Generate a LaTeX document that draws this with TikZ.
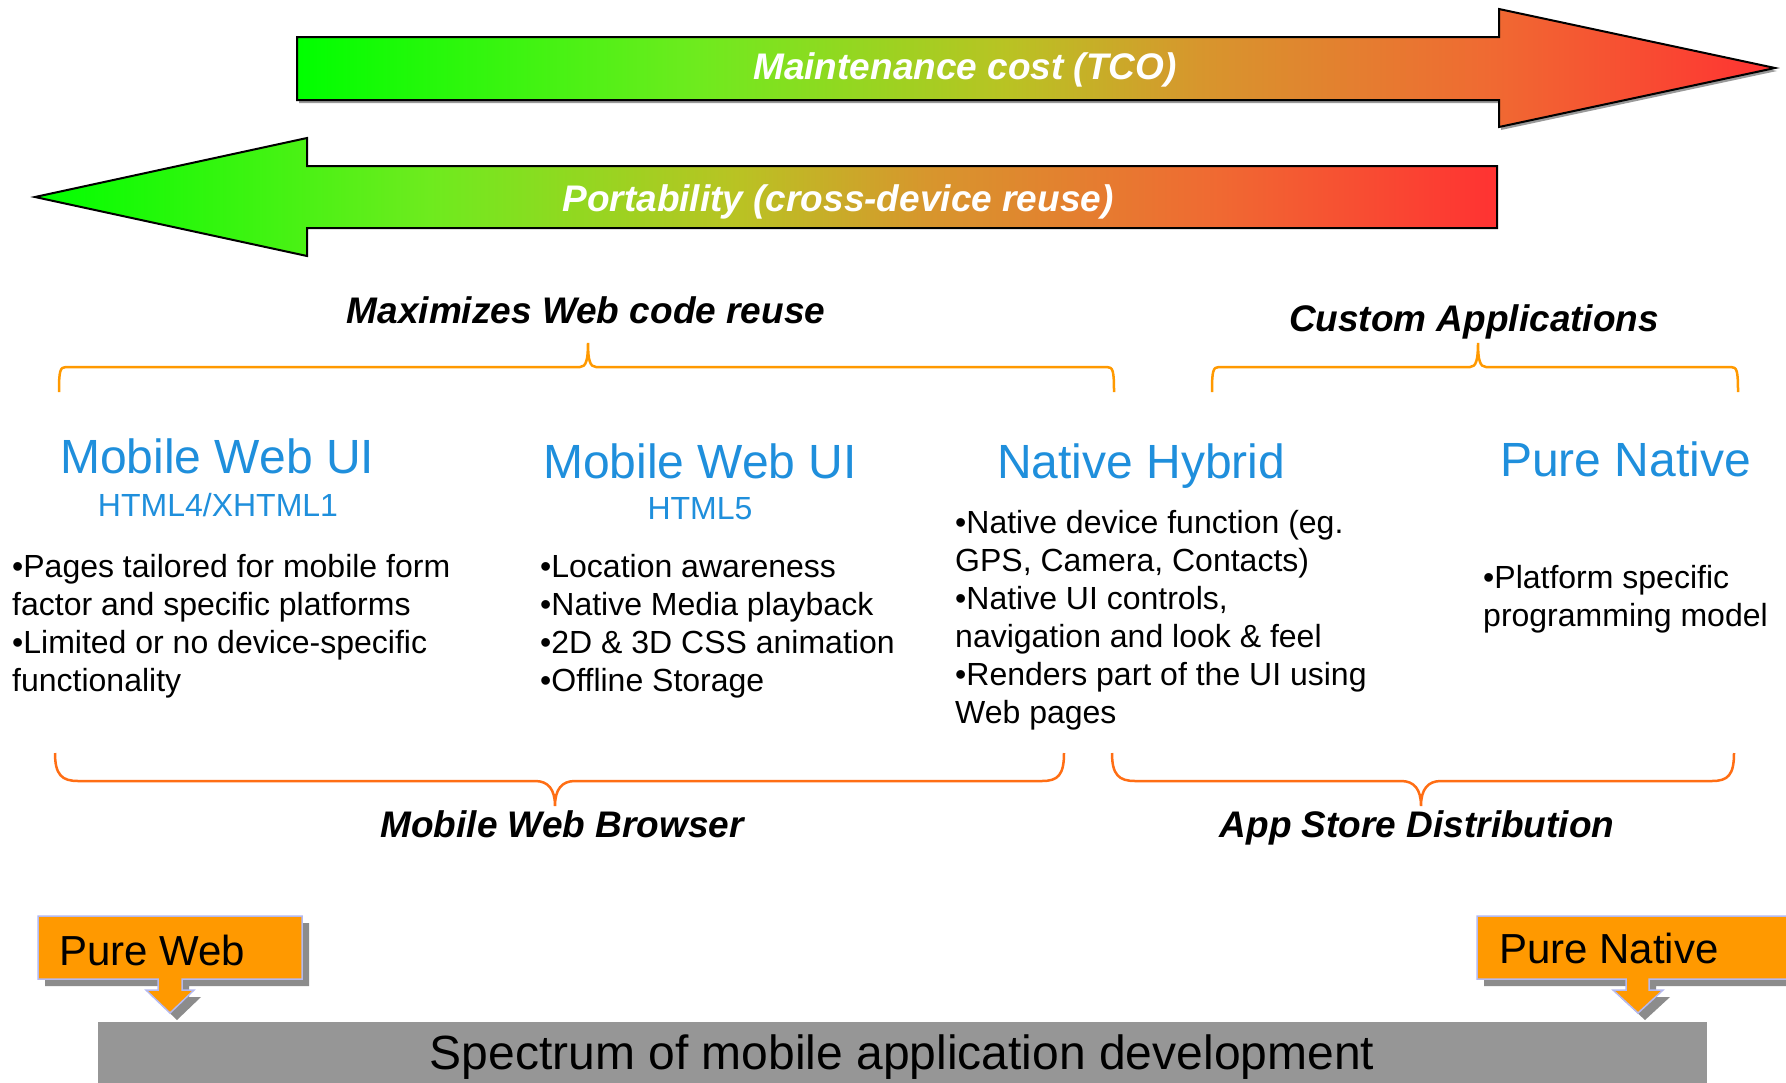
\documentclass[tikz,border=0pt]{standalone}
\usepackage{fontspec}
\setmainfont{Liberation Sans}
\definecolor{blueT}{RGB}{31,143,220}
\definecolor{braceA}{RGB}{255,153,0}
\definecolor{braceB}{RGB}{255,110,20}
\definecolor{calloutF}{RGB}{255,153,0}
\definecolor{calloutB}{RGB}{180,185,240}
\definecolor{barG}{RGB}{150,150,150}
\definecolor{gA}{RGB}{0,255,0}
\definecolor{gB}{RGB}{110,235,30}
\definecolor{gC}{RGB}{185,195,35}
\definecolor{gD}{RGB}{215,150,45}
\definecolor{gE}{RGB}{240,105,50}
\definecolor{gR}{RGB}{255,50,50}
\pgfdeclarehorizontalshading{gradshade}{100bp}{color(0bp)=(gA); color(25bp)=(gA); color(38.5bp)=(gB); color(49bp)=(gC); color(55.5bp)=(gD); color(65.5bp)=(gE); color(75bp)=(gR); color(100bp)=(gR)}
\begin{document}
\begin{tikzpicture}[x=1pt,y=-1pt,
  title/.style={font=\fontsize{37}{44}\selectfont\bfseries\itshape, inner sep=0, anchor=base},
  head/.style={text=blueT, font=\fontsize{48}{56}\selectfont, inner sep=0},
  subhead/.style={text=blueT, font=\fontsize{32}{38}\selectfont, inner sep=0, anchor=base},
  bul/.style={font=\fontsize{32}{38}\selectfont, inner sep=0, anchor=base west, align=left},
  arrowbox/.style={draw=black, line width=2pt, shading=gradshade},
  bracetop/.style={draw=braceA, line width=2.5pt},
  bracebot/.style={draw=braceB, line width=2.5pt},
  callout/.style={fill=calloutF, draw=calloutB, line width=1.5pt},
  calloutshadow/.style={fill=black!45},
  callouttext/.style={font=\fontsize{42}{50}\selectfont, inner sep=0, anchor=base west}
]
\useasboundingbox (0,0) rectangle (1786,1082);
\clip (0,0) rectangle (1786,1082);
\fill[white] (0,0) rectangle (1786,1082);

% top arrow (Maintenance cost)
\fill[black!40, shift={(2,3)}] (297,37) -- (1499,37) -- (1499,9) -- (1775,68) -- (1499,127) -- (1499,100) -- (297,100) -- cycle;
\path[arrowbox] (297,37) -- (1499,37) -- (1499,9) -- (1775,68) -- (1499,127) -- (1499,100) -- (297,100) -- cycle;
\node[title, text=white] (tco) at (965,79) {Maintenance cost (TCO)};

% bottom arrow (Portability)
\path[arrowbox] (1497,166) -- (307,166) -- (307,138) -- (35,197) -- (307,256) -- (307,228) -- (1497,228) -- cycle;
\node[title, text=white] (port) at (838,211) {Portability (cross-device reuse)};

% top labels
\node[title] (maxr) at (586,323) {Maximizes Web code reuse};
\node[title] (cust) at (1474,331) {Custom Applications};

% top braces
\draw[bracetop] (59,392) .. controls (59,371) and (60,367) .. (66,367) -- (580,367)
  .. controls (586,367) and (588,360) .. (588,343)
  .. controls (588,360) and (590,367) .. (596,367) -- (1107,367)
  .. controls (1113,367) and (1114,371) .. (1114,392);
\draw[bracetop] (1212,392) .. controls (1212,371) and (1213,367) .. (1219,367) -- (1470,367)
  .. controls (1476,367) and (1478,360) .. (1478,343)
  .. controls (1478,360) and (1480,367) .. (1486,367) -- (1731,367)
  .. controls (1737,367) and (1738,371) .. (1738,392);

% column headings
\node[head, anchor=base west] (mw1) at (60,473) {Mobile Web UI};
\node[subhead] (h4) at (218,516) {HTML4/XHTML1};
\node[head, anchor=base] (mw2) at (700,478) {Mobile Web UI};
\node[subhead] (h5) at (700,519) {HTML5};
\node[head, anchor=base west] (nh) at (997,478) {Native Hybrid};
\node[head, anchor=base west] (pn) at (1500,476) {Pure Native};

% bullets (anchor = baseline of the last line)
\node[bul] (c1) at (12,691) {•Pages tailored for mobile form\\factor and specific platforms\\•Limited or no device-specific\\functionality};
\node[bul] (c2) at (540,691) {•Location awareness\\•Native Media playback\\•2D \& 3D CSS animation\\•Offline Storage};
\node[bul] (c3) at (955,723) {•Native device function (eg.\\GPS, Camera, Contacts)\\•Native UI controls,\\navigation and look \& feel\\•Renders part of the UI using\\Web pages};
\node[bul] (c4) at (1483,626) {•Platform specific\\programming model};

% bottom braces
\draw[bracebot] (55,753) .. controls (55,775) and (62,781) .. (78,781) -- (535,781)
  .. controls (548,781) and (555,789) .. (555,806)
  .. controls (555,789) and (562,781) .. (575,781) -- (1042,781)
  .. controls (1058,781) and (1064,775) .. (1064,753);
\draw[bracebot] (1112,753) .. controls (1112,775) and (1119,781) .. (1135,781) -- (1401,781)
  .. controls (1414,781) and (1421,789) .. (1421,806)
  .. controls (1421,789) and (1428,781) .. (1441,781) -- (1712,781)
  .. controls (1728,781) and (1734,775) .. (1734,753);

\node[title] (mwb) at (562,837) {Mobile Web Browser};
\node[title] (asd) at (1417,837) {App Store Distribution};

% gray bar
\fill[barG] (98,1022) rectangle (1707,1090);
\node[font=\fontsize{48}{56}\selectfont, inner sep=0, anchor=base] (spec) at (902,1069) {Spectrum of mobile application development};

% callouts
\fill[calloutshadow, shift={(7,7)}] (38,916) -- (302,916) -- (302,979) -- (182,979) -- (182,990) -- (194,990) -- (170,1013) -- (146,990) -- (158,990) -- (158,979) -- (38,979) -- cycle;
\path[callout] (38,916) -- (302,916) -- (302,979) -- (182,979) -- (182,990) -- (194,990) -- (170,1013) -- (146,990) -- (158,990) -- (158,979) -- (38,979) -- cycle;
\node[callouttext] (pw) at (59,965) {Pure Web};

\fill[calloutshadow, shift={(7,7)}] (1477,916) -- (1800,916) -- (1800,979) -- (1649,979) -- (1649,990) -- (1663,990) -- (1638,1013) -- (1613,990) -- (1626,990) -- (1626,979) -- (1477,979) -- cycle;
\path[callout] (1477,916) -- (1800,916) -- (1800,979) -- (1649,979) -- (1649,990) -- (1663,990) -- (1638,1013) -- (1613,990) -- (1626,990) -- (1626,979) -- (1477,979) -- cycle;
\node[callouttext] (pnat) at (1499,963) {Pure Native};
\end{tikzpicture}
\end{document}
